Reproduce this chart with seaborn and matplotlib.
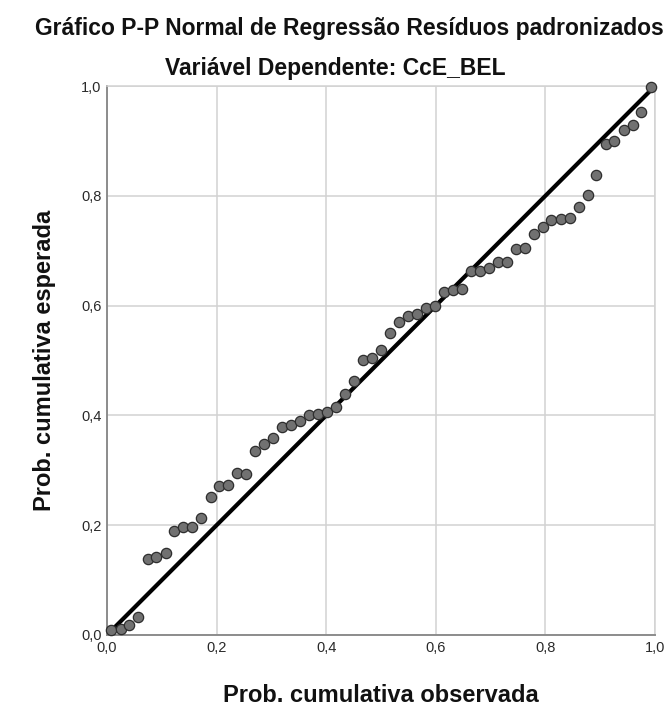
import matplotlib
matplotlib.use("Agg")
import matplotlib.pyplot as plt
import matplotlib.ticker as mticker
import numpy as np
import pandas as pd
import seaborn as sns

# Observed cumulative probability of the ordered standardized residuals
observed = [0.008, 0.025, 0.041, 0.057, 0.074, 0.090, 0.107, 0.123, 0.139, 0.156,
            0.172, 0.189, 0.205, 0.221, 0.238, 0.254, 0.270, 0.287, 0.303, 0.320,
            0.336, 0.352, 0.369, 0.385, 0.402, 0.418, 0.434, 0.451, 0.467, 0.484,
            0.500, 0.516, 0.533, 0.549, 0.566, 0.582, 0.598, 0.615, 0.631, 0.648,
            0.664, 0.680, 0.697, 0.713, 0.730, 0.746, 0.762, 0.779, 0.795, 0.811,
            0.828, 0.844, 0.861, 0.877, 0.893, 0.910, 0.926, 0.943, 0.959, 0.975,
            0.992]
# Expected cumulative probability under the normal distribution
expected = [0.009, 0.011, 0.018, 0.033, 0.138, 0.142, 0.149, 0.190, 0.197, 0.197,
            0.213, 0.251, 0.271, 0.274, 0.295, 0.293, 0.335, 0.348, 0.358, 0.379,
            0.382, 0.390, 0.400, 0.402, 0.407, 0.416, 0.439, 0.463, 0.501, 0.505,
            0.519, 0.551, 0.570, 0.581, 0.585, 0.596, 0.600, 0.625, 0.628, 0.630,
            0.663, 0.663, 0.668, 0.680, 0.679, 0.704, 0.705, 0.730, 0.744, 0.756,
            0.757, 0.759, 0.779, 0.802, 0.838, 0.894, 0.900, 0.920, 0.929, 0.953,
            0.998]
reference_line = [0.0, 1.0]
tick_values = [0.0, 0.2, 0.4, 0.6, 0.8, 1.0]

title_main = "Gráfico P-P Normal de Regressão Resíduos padronizados"
title_sub = "Variável Dependente: CcE_BEL"
x_label = "Prob. cumulativa observada"
y_label = "Prob. cumulativa esperada"

sns.set_theme(style="white")
plt.rcParams["font.family"] = ["Liberation Sans", "DejaVu Sans"]

df = pd.DataFrame({"observada": observed, "esperada": expected})
line_df = pd.DataFrame({"x": reference_line, "y": reference_line})

fig = plt.figure(figsize=(6.68, 7.09), dpi=100)
ax = fig.add_axes([107 / 668, 74 / 709, 548 / 668, 549 / 709])

ax.set_xlim(0, 1)
ax.set_ylim(0, 1)
ax.set_xticks(tick_values)
ax.set_yticks(tick_values)
ax.grid(True, color="#d2d2d2", linewidth=1.1)
ax.set_axisbelow(True)

sns.lineplot(data=line_df, x="x", y="y", ax=ax, color="black",
             linewidth=3.0, zorder=2, legend=False)
sns.scatterplot(data=df, x="observada", y="esperada", ax=ax, s=55,
                color="#717171", edgecolor="#2e2e2e", linewidth=0.9,
                zorder=3, clip_on=False, legend=False)

fmt = mticker.FuncFormatter(lambda v, _: f"{v:.1f}".replace(".", ","))
ax.xaxis.set_major_formatter(fmt)
ax.yaxis.set_major_formatter(fmt)
ax.tick_params(axis="both", length=0, labelsize=10.5, colors="#2a2a2a", pad=4)

for side in ("top", "right"):
    ax.spines[side].set_color("#d2d2d2")
    ax.spines[side].set_linewidth(1.1)
for side in ("left", "bottom"):
    ax.spines[side].set_color("#8c8c8c")
    ax.spines[side].set_linewidth(1.4)

ax.set_xlabel(x_label, fontsize=17, fontweight="bold", labelpad=21, color="#111111")
ax.set_ylabel(y_label, fontsize=17, fontweight="bold", labelpad=18, color="#111111")

fig.text(349 / 668, 1 - 28 / 709, title_main, ha="center", va="center",
         fontsize=16.5, fontweight="bold", color="#111111")
fig.text(335 / 668, 1 - 68 / 709, title_sub, ha="center", va="center",
         fontsize=16.5, fontweight="bold", color="#111111")

fig.savefig("out.png", dpi=100)
